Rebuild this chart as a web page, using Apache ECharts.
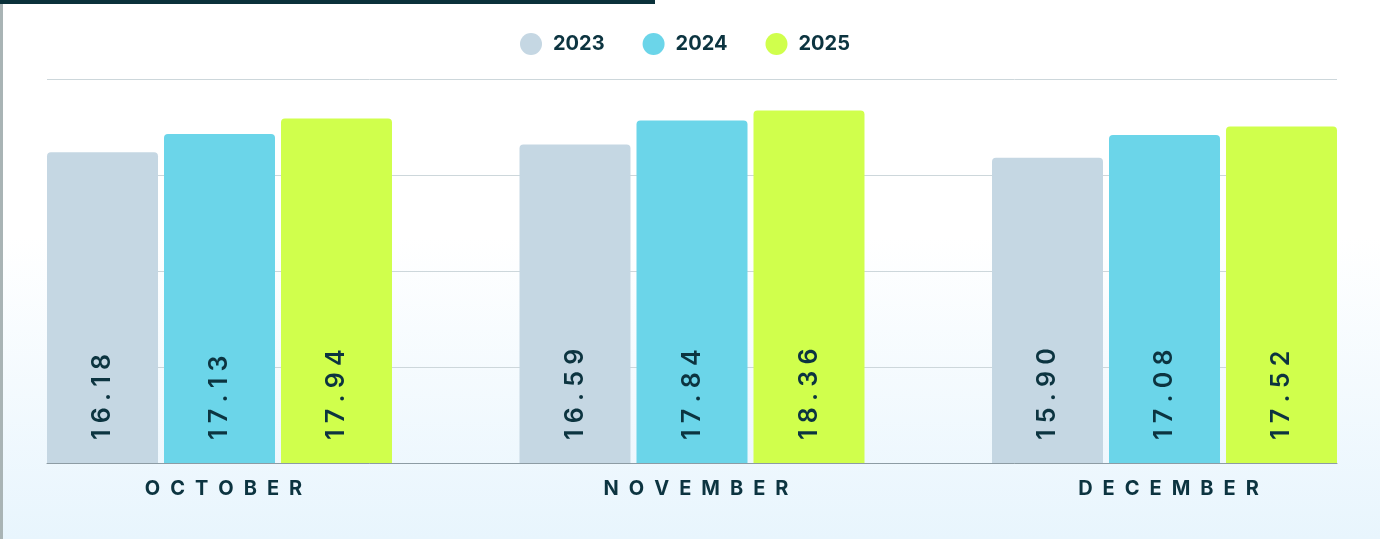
<!DOCTYPE html>
<html lang="en">
<head>
  <meta charset="utf-8">
  <title>Monthly values 2023-2025</title>
  <script src="https://cdn.jsdelivr.net/npm/echarts@6/dist/echarts.min.js"></script>
  <style>
    html, body { margin: 0; padding: 0; }
    #wrap {
      position: relative;
      width: 1380px;
      height: 539px;
      background: linear-gradient(to bottom, #ffffff 0%, #ffffff 44%, #e8f5fd 100%);
    }
    #topbar { position: absolute; left: 0; top: 0; width: 655px; height: 4px; background: #0a313a; }
    #leftbar { position: absolute; left: 0; top: 4px; width: 3px; bottom: 0; background: #a9b4b5; }
    #main { position: absolute; left: 0; top: 0; width: 1380px; height: 539px; }
  </style>
</head>
<body>
  <div id="wrap">
    <div id="main"></div>
    <div id="topbar"></div>
    <div id="leftbar"></div>
  </div>
  <script>
    var months = ['OCTOBER', 'NOVEMBER', 'DECEMBER'];
    var years = ['2023', '2024', '2025'];
    var values2023 = [16.18, 16.59, 15.90];
    var values2024 = [17.13, 17.84, 17.08];
    var values2025 = [17.94, 18.36, 17.52];
    var colors = ['#c5d7e3', '#6bd5e9', '#d0ff4c'];

    var ink = '#0c3440';
    var font = 'Inter, "DejaVu Sans", sans-serif';

    // spread letters out a bit, like css letter-spacing
    function spaced(s, sep) {
      return String(s).split('').join(sep);
    }

    var chart = echarts.init(document.getElementById('main'));

    function barSeries(name, data) {
      return {
        name: name,
        type: 'bar',
        xAxisIndex: 1,
        yAxisIndex: 1,
        barWidth: 111,
        barGap: '5.4%',
        clip: false,
        itemStyle: { borderRadius: [4, 4, 0, 0] },
        label: {
          show: true,
          position: 'insideBottom',
          rotate: 90,
          align: 'left',
          verticalAlign: 'middle',
          distance: 23,
          color: ink,
          fontFamily: font,
          fontSize: 25,
          fontWeight: 600,
          formatter: function (p) { return spaced(p.value.toFixed(2), '\u2005'); }
        },
        data: data
      };
    }

    var option = {
      color: colors,
      animation: false,
      legend: {
        data: years,
        top: 28,
        left: 515,
        icon: 'circle',
        itemWidth: 22,
        itemHeight: 22,
        itemGap: 38,
        textStyle: { color: ink, fontFamily: font, fontSize: 20, fontWeight: 700, padding: [0, 0, 0, 6] }
      },
      grid: [
        { left: 47, right: 43, top: 79, bottom: 76 },
        { left: 219.5, right: 215.5, top: 79, bottom: 76 }
      ],
      xAxis: [
        {
          type: 'category',
          gridIndex: 0,
          data: months,
          axisLine: { show: true, lineStyle: { color: '#8d9ca4', width: 1 } },
          axisTick: { show: false },
          axisLabel: { show: false }
        },
        {
          type: 'category',
          gridIndex: 1,
          data: months,
          boundaryGap: false,
          axisLine: { show: false },
          axisTick: { show: false },
          axisLabel: {
            margin: 16,
            color: ink,
            fontFamily: font,
            fontSize: 20,
            fontWeight: 700,
            padding: [0, 0, 0, 8],
            formatter: function (v) { return spaced(v, '\u2002'); }
          }
        }
      ],
      yAxis: [
        {
          type: 'value',
          gridIndex: 0,
          min: 0,
          max: 20,
          interval: 5,
          axisLine: { show: false },
          axisTick: { show: false },
          axisLabel: { show: false },
          splitLine: { lineStyle: { color: '#cdd7db', width: 1 } }
        },
        {
          type: 'value',
          gridIndex: 1,
          min: 0,
          max: 20,
          interval: 5,
          axisLine: { show: false },
          axisTick: { show: false },
          axisLabel: { show: false },
          splitLine: { show: false }
        }
      ],
      series: [
        barSeries(years[0], values2023),
        barSeries(years[1], values2024),
        barSeries(years[2], values2025)
      ]
    };

    chart.setOption(option);
  </script>
</body>
</html>
